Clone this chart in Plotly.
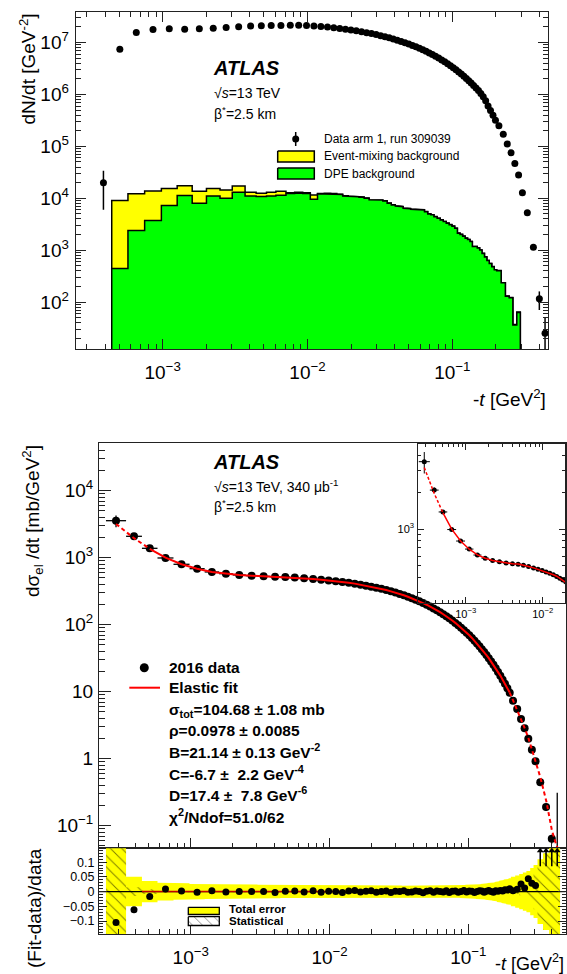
import math
import plotly.graph_objects as go

# ------------------------------------------------------------------ data
# -t bin edges [GeV^2]
t_edges = [0.000245, 0.000342, 0.000445, 0.000576, 0.000751, 0.000980, 0.001260, 0.001600,
           0.002007, 0.002490, 0.003025, 0.003709, 0.004422, 0.005213, 0.006053, 0.007106,
           0.008154, 0.009274, 0.010465, 0.011729, 0.013064, 0.014472, 0.015952, 0.017503,
           0.019127, 0.020822, 0.022680, 0.024618, 0.026634, 0.028730, 0.030906, 0.033160,
           0.035495, 0.037908, 0.040401, 0.042973, 0.045753, 0.048620, 0.051574, 0.054616,
           0.057744, 0.060960, 0.064262, 0.067652, 0.071129, 0.074693, 0.078568, 0.082541,
           0.086612, 0.090782, 0.095049, 0.099414, 0.103877, 0.108438, 0.113098, 0.117855,
           0.122640, 0.127520, 0.132496, 0.137567, 0.143111, 0.148764, 0.154528, 0.160400,
           0.166791, 0.173306, 0.179946, 0.187316, 0.194834, 0.202500, 0.2175, 0.2325,
           0.247, 0.262, 0.279, 0.295, 0.315, 0.345, 0.382, 0.417, 0.458]

# elastic differential cross section dsigma/dt [mb/GeV^2]
dsigma = [3565, 2085, 1380, 990, 797, 685, 612, 577, 552, 539, 527, 520, 515,
          505, 493, 479, 468, 456.8, 445.1, 433.2, 420.9, 408.4, 395.6, 382.8, 369.8,
          356.4, 342.6, 328.8, 315.1, 301.4, 287.9, 274.6, 261.5, 248.5, 235.9, 223.3,
          210.6, 198.4, 186.5, 175.1, 164.0, 153.5, 143.3, 133.5, 124.3, 115.2, 106.4,
          98.0, 90.1, 82.8, 75.9, 69.3, 63.3, 57.6, 52.4, 47.5, 43.1, 39.0, 35.2, 31.6,
          28.2, 25.2, 22.3, 19.7, 17.3, 15.1, 13.1, 11.26, 9.63,
          7.35, 5.52, 3.92, 2.84, 1.99, 1.36, 0.914, 0.445, 0.190, 0.064, 0.030]

# (fit - data)/data
resid = [-0.105, -0.062, -0.017, 0.009, 0.002, -0.002, 0.003, -0.001, 0.0, 0.0, 0.0, -0.003, 0.001,
         0.002, -0.001, 0.003, -0.002, 0.001, 0.0, -0.003, 0.002, 0.004, -0.001,
         0.001, 0.003, -0.002, 0.0, 0.002, -0.003, 0.001, 0.0, 0.003, -0.002,
         -0.001, 0.002, 0.0, -0.004, 0.001, 0.003, -0.002, 0.002, 0.0, -0.001,
         0.003, -0.003, 0.001, 0.002, -0.002, 0.0, 0.004, -0.001, 0.002, 0.001,
         -0.003, 0.0, 0.003, 0.002, -0.002, 0.001, 0.004, 0.0, -0.002, 0.003,
         0.001, 0.004, 0.002, 0.006, 0.005, 0.010,
         0.003, 0.008, 0.026, 0.012, 0.044, 0.028, 0.021, 0.30, 0.50, 0.80, 1.00]

# relative total and statistical uncertainties
tot_err = [0.20, 0.050, 0.036, 0.030, 0.028, 0.026, 0.025, 0.025, 0.024, 0.024, 0.023, 0.023, 0.022,
           0.022, 0.022, 0.022, 0.022, 0.022, 0.022, 0.022, 0.022,
           0.021, 0.021, 0.021, 0.021, 0.021, 0.021, 0.021, 0.021, 0.021, 0.021,
           0.020, 0.020, 0.020, 0.020, 0.020, 0.020, 0.020, 0.020, 0.020, 0.020,
           0.020, 0.020, 0.020, 0.020, 0.020,
           0.021, 0.021, 0.022, 0.022, 0.023, 0.023, 0.024, 0.024, 0.025, 0.025, 0.026, 0.027,
           0.028, 0.029, 0.030, 0.031, 0.033, 0.035, 0.037, 0.039, 0.041, 0.043, 0.045,
           0.050, 0.055, 0.060, 0.065, 0.070, 0.080, 0.090, 0.110, 0.130, 0.150, 0.200]
stat_err = [0.20, 0.015, 0.008] + [0.002] * 66 + \
           [0.005, 0.008, 0.012, 0.016, 0.020, 0.040, 0.060, 0.100, 0.130, 0.200, 0.300]

# upper panel: measured dN/dt [GeV^-2] (None = not shown)
dndt = [None, 2.0e4, 7.46e6, 1.56e7, 1.78e7, 1.86e7, 1.81e7, 1.84e7, 1.89e7, 1.95e7, 2.03e7, 2.10e7,
        2.12e7, 2.13e7, 2.14e7, 2.15e7, 2.15e7, 2.14e7, 2.10e7, 2.049e7, 1.991e7, 1.932e7, 1.871e7,
        1.811e7, 1.749e7, 1.686e7, 1.620e7, 1.555e7, 1.490e7, 1.426e7, 1.362e7, 1.299e7, 1.237e7,
        1.175e7, 1.116e7, 1.056e7, 9.96e6, 9.38e6, 8.82e6, 8.28e6, 7.76e6, 7.26e6, 6.78e6, 6.31e6,
        5.88e6, 5.45e6, 5.03e6, 4.64e6, 4.26e6, 3.92e6, 3.59e6, 3.28e6, 2.99e6, 2.72e6, 2.48e6,
        2.25e6, 2.04e6, 1.84e6, 1.66e6, 1.49e6, 1.33e6, 1.19e6, 1.05e6,
        9.0e5, 7.6e5, 6.0e5, 4.9e5, 4.0e5, 3.2e5, 2.5e5, 1.71e5, 1.11e5, 7.5e4, 4.7e4, 2.8e4,
        1.28e4, 5280, 1140, 115, 25]
dndt_err = [0] + [1.4e4] + [0] * 76 + [45, 24.9]

# upper panel backgrounds (stacked), events / GeV^2
dpe_bkg = [0, 0, 440, 2380, 3710, 7210, 11240, 8000, 11070, 10000, 13030, 11070, 10770, 11070,
           11400, 12300, 12470, 12300, 9550, 12100, 12100, 12000, 11800, 11070, 10730, 10730,
           10500, 10000, 9300, 9300, 9200, 8870, 8000, 7430, 7100, 6890, 6410, 6300, 6130, 6130,
           5960, 5960, 5520, 4990, 4800, 4420, 4110, 3820, 3550, 3300, 3100, 2900, 2630, 2120,
           2000, 1850, 1700, 1600, 1460, 1170, 1170, 1100, 1000, 860, 740, 630, 550, 480, 417,
           400, 234, 129, 121, 36, 63, 0, 0, 0, 0, 0]
evmix_bkg = [0, 0, 8560, 9890, 10120, 8130, 6260, 5620, 4270, 4460, 4230, 1960, 1700, 1960,
             2220, 520, 530, 520, 2030, 200, 370, 300, 200,
             120, 110, 100, 100, 90, 90, 80, 80, 80, 70, 60, 60, 50, 50, 50, 40, 40, 40, 40, 35,
             30, 30, 30, 25, 25, 20, 20, 20, 15, 15, 15, 12, 12, 10, 10, 10, 8, 8, 7, 6,
             6, 5, 4, 4, 3, 3, 3, 2, 1, 1, 1, 1, 0, 0, 0, 0, 0]

# extrapolated fit beyond the fit range (dashed)
fit_tail_t = [0.1986, 0.21, 0.225, 0.24, 0.2545, 0.27, 0.287, 0.305, 0.33, 0.365, 0.40, 0.432, 0.46]
fit_tail_v = [9.72, 7.37, 5.56, 4.02, 2.87, 2.08, 1.40, 0.93, 0.53, 0.23, 0.085, 0.05, 0.04]

FIT_LO, FIT_HI = 2, 69   # fit-range bins [2, 68]

# ticks
x_major = [1e-3, 1e-2, 1e-1]
x_major_text = ["10<sup>\u22123</sup>", "10<sup>\u22122</sup>", "10<sup>\u22121</sup>"]
x_minor = [m * 10.0 ** d for d in (-4, -3, -2, -1) for m in range(2, 10)]
top_y_major = [1e2, 1e3, 1e4, 1e5, 1e6, 1e7]
top_y_text = ["10<sup>2</sup>", "10<sup>3</sup>", "10<sup>4</sup>", "10<sup>5</sup>", "10<sup>6</sup>", "10<sup>7</sup>"]
top_y_minor = [m * 10.0 ** d for d in range(1, 8) for m in range(2, 10)]
main_y_major = [0.1, 1, 10, 100, 1e3, 1e4]
main_y_text = ["10<sup>\u22121</sup>", "1", "10", "10<sup>2</sup>", "10<sup>3</sup>", "10<sup>4</sup>"]
main_y_minor = [m * 10.0 ** d for d in range(-2, 5) for m in range(2, 10)]
ratio_y_major = [-0.1, -0.05, 0, 0.05, 0.1]
ratio_y_text = ["\u22120.1", "\u22120.05", "0", "0.05", "0.1"]

# ------------------------------------------------------------------ helpers
W, H = 567, 974
def px(x):
    return x / W
def py(y):
    return 1 - y / H

nb = len(t_edges) - 1
t_c = [math.sqrt(t_edges[i] * t_edges[i + 1]) for i in range(nb)]
fit_v = [dsigma[i] * (1 + resid[i]) for i in range(nb)]

FONT = "Liberation Sans, Arial, Helvetica, sans-serif"

fig = go.Figure()

# ---------------- top panel: stacked background histograms
def step_poly(vals, lo, hi, bottom):
    xs, ys = [t_edges[lo]], [bottom]
    for i in range(lo, hi):
        xs += [t_edges[i], t_edges[i + 1]]
        ys += [vals[i], vals[i]]
    xs.append(t_edges[hi]); ys.append(bottom)
    return xs, ys

tot_bkg = [a + b for a, b in zip(dpe_bkg, evmix_bkg)]
xs, ys = step_poly(tot_bkg, 2, 75, 1.0)
fig.add_trace(go.Scatter(x=xs, y=ys, mode="lines", fill="toself", fillcolor="#ffff00",
                         line=dict(color="black", width=1.5), xaxis="x", yaxis="y",
                         showlegend=False, hoverinfo="skip"))
xs, ys = step_poly(dpe_bkg, 2, 75, 1.0)
fig.add_trace(go.Scatter(x=xs, y=ys, mode="lines", fill="toself", fillcolor="#00ff00",
                         line=dict(color="black", width=1.5), xaxis="x", yaxis="y",
                         showlegend=False, hoverinfo="skip"))
sel = [i for i in range(nb) if dndt[i] is not None]
fig.add_trace(go.Scatter(x=[t_c[i] for i in sel], y=[dndt[i] for i in sel], mode="markers",
                         marker=dict(color="black", size=7),
                         error_y=dict(type="data", array=[dndt_err[i] for i in sel],
                                      color="black", thickness=1.5, width=0),
                         xaxis="x", yaxis="y", showlegend=False))

# ---------------- main lower panel
ex_p = [t_edges[i + 1] - t_c[i] for i in range(nb)]
ex_m = [t_c[i] - t_edges[i] for i in range(nb)]
ey_p = [dsigma[i] * tot_err[i] for i in range(nb)]
ey_m = [min(dsigma[i] * tot_err[i], dsigma[i] * 0.97) for i in range(nb)]
ey_p[-1] = 0.28  # large upper error of last bin
fig.add_trace(go.Scatter(x=t_c, y=dsigma, mode="markers", marker=dict(color="black", size=8),
                         error_x=dict(type="data", array=ex_p, arrayminus=ex_m, color="black",
                                      thickness=1.3, width=0),
                         error_y=dict(type="data", array=ey_p, arrayminus=ey_m, color="black",
                                      thickness=1.3, width=0),
                         xaxis="x2", yaxis="y2", showlegend=False))
fig.add_trace(go.Scatter(x=t_c[0:FIT_LO + 1], y=fit_v[0:FIT_LO + 1], mode="lines",
                         line=dict(color="#ff0000", width=2, dash="4px,3px"),
                         xaxis="x2", yaxis="y2", showlegend=False))
fig.add_trace(go.Scatter(x=fit_tail_t, y=fit_tail_v, mode="lines",
                         line=dict(color="#ff0000", width=2, dash="4px,3px"),
                         xaxis="x2", yaxis="y2", showlegend=False))
fig.add_trace(go.Scatter(x=t_c[FIT_LO:FIT_HI], y=fit_v[FIT_LO:FIT_HI], mode="lines",
                         line=dict(color="#ff0000", width=2),
                         xaxis="x2", yaxis="y2", showlegend=False))

# ---------------- ratio panel
def band_poly(errs):
    xs, ys = [], []
    for i in range(nb):
        xs += [t_edges[i], t_edges[i + 1]]
        ys += [errs[i], errs[i]]
    for i in reversed(range(nb)):
        xs += [t_edges[i + 1], t_edges[i]]
        ys += [-errs[i], -errs[i]]
    xs.append(xs[0]); ys.append(ys[0])
    return xs, ys

xs, ys = band_poly(tot_err)
fig.add_trace(go.Scatter(x=xs, y=ys, mode="lines", fill="toself", fillcolor="#ffff00",
                         line=dict(width=0, color="#ffff00"), xaxis="x3", yaxis="y3",
                         showlegend=False, hoverinfo="skip"))
xs, ys = band_poly(stat_err)
fig.add_trace(go.Scatter(x=xs, y=ys, mode="lines", fill="toself", fillcolor="rgba(0,0,0,0)",
                         fillpattern=dict(shape="\\", fgcolor="black", bgcolor="rgba(0,0,0,0)",
                                          size=8, solidity=0.12),
                         line=dict(width=0, color="rgba(0,0,0,0)"), xaxis="x3", yaxis="y3",
                         showlegend=False, hoverinfo="skip"))
fig.add_trace(go.Scatter(x=[2.0e-4, 0.6], y=[0, 0], mode="lines",
                         line=dict(color="black", width=1.3), xaxis="x3", yaxis="y3",
                         showlegend=False, hoverinfo="skip"))
fig.add_trace(go.Scatter(x=[t_edges[FIT_LO], t_edges[FIT_HI]], y=[0, 0], mode="lines",
                         line=dict(color="#c00000", width=1.5), xaxis="x3", yaxis="y3",
                         showlegend=False, hoverinfo="skip"))
R_MAX = 0.147
on = [i for i in range(nb) if abs(resid[i]) < R_MAX]
off = [i for i in range(nb) if resid[i] >= R_MAX]
fig.add_trace(go.Scatter(x=[t_c[i] for i in on], y=[resid[i] for i in on], mode="markers",
                         marker=dict(color="black", size=7), xaxis="x3", yaxis="y3",
                         showlegend=False))
ax_x, ax_y = [], []
for i in off:
    ax_x += [t_c[i], t_c[i], None]
    ax_y += [0.086, 0.138, None]
fig.add_trace(go.Scatter(x=ax_x, y=ax_y, mode="lines", line=dict(color="black", width=1.5),
                         xaxis="x3", yaxis="y3", showlegend=False, hoverinfo="skip"))
fig.add_trace(go.Scatter(x=[t_c[i] for i in off], y=[0.139] * len(off), mode="markers",
                         marker=dict(symbol="triangle-up", color="black", size=6),
                         cliponaxis=False, xaxis="x3", yaxis="y3", showlegend=False))

# ---------------- inset
fig.add_trace(go.Scatter(x=t_c, y=dsigma, mode="markers", marker=dict(color="black", size=5),
                         error_x=dict(type="data", array=ex_p, arrayminus=ex_m, color="black",
                                      thickness=1, width=0),
                         error_y=dict(type="data", array=ey_p, arrayminus=ey_m, color="black",
                                      thickness=1, width=0),
                         xaxis="x4", yaxis="y4", showlegend=False))
fig.add_trace(go.Scatter(x=t_c[0:FIT_LO + 1], y=fit_v[0:FIT_LO + 1], mode="lines",
                         line=dict(color="#ff0000", width=1.5, dash="3px,2px"),
                         xaxis="x4", yaxis="y4", showlegend=False))
fig.add_trace(go.Scatter(x=t_c[FIT_LO:FIT_HI], y=fit_v[FIT_LO:FIT_HI], mode="lines",
                         line=dict(color="#ff0000", width=1.5),
                         xaxis="x4", yaxis="y4", showlegend=False))

# ---------------- legend swatches (pixel overlay axes)
def rect(x0, y0, x1, y1):
    return [x0, x1, x1, x0, x0], [y0, y0, y1, y1, y0]

fig.add_trace(go.Scatter(x=[295.7], y=[139], mode="markers", marker=dict(color="black", size=7),
                         error_y=dict(type="constant", value=7, color="black", thickness=1.5, width=0),
                         xaxis="x5", yaxis="y5", showlegend=False, hoverinfo="skip"))
for (y0, y1, col) in [(151, 162, "#ffff00"), (168, 179, "#00ff00")]:
    rx, ry = rect(277.7, y0, 314.3, y1)
    fig.add_trace(go.Scatter(x=rx, y=ry, mode="lines", fill="toself", fillcolor=col,
                             line=dict(color="black", width=1.5), xaxis="x5", yaxis="y5",
                             showlegend=False, hoverinfo="skip"))
fig.add_trace(go.Scatter(x=[144.3], y=[667.7], mode="markers", marker=dict(color="black", size=9),
                         xaxis="x5", yaxis="y5", showlegend=False, hoverinfo="skip"))
fig.add_trace(go.Scatter(x=[129.3, 160], y=[687.7, 687.7], mode="lines",
                         line=dict(color="#ff0000", width=2), xaxis="x5", yaxis="y5",
                         showlegend=False, hoverinfo="skip"))
rx, ry = rect(188.3, 907.3, 219.3, 914.5)
fig.add_trace(go.Scatter(x=rx, y=ry, mode="lines", fill="toself", fillcolor="#ffff00",
                         line=dict(color="black", width=1.3), xaxis="x5", yaxis="y5",
                         showlegend=False, hoverinfo="skip"))
rx, ry = rect(188.3, 916.7, 219.3, 925.5)
fig.add_trace(go.Scatter(x=rx, y=ry, mode="lines", fill="toself", fillcolor="rgba(0,0,0,0)",
                         fillpattern=dict(shape="\\", fgcolor="black", bgcolor="white",
                                          size=7, solidity=0.12),
                         line=dict(color="black", width=1.3), xaxis="x5", yaxis="y5",
                         showlegend=False, hoverinfo="skip"))

# ------------------------------------------------------------------ axes
def axis_common(**kw):
    d = dict(showline=True, linecolor="#222", linewidth=1, ticks="inside", tickcolor="#222",
             tickwidth=1, showgrid=False, zeroline=False, fixedrange=True,
             tickfont=dict(family=FONT, size=19, color="black"))
    d.update(kw)
    return d

LOG = math.log10
layout_axes = dict(
    xaxis=axis_common(type="log", domain=[px(75.7), px(548)], anchor="y",
                      range=[LOG(2.51e-4), LOG(0.458)], mirror="ticks", ticklen=10,
                      tickmode="array", tickvals=x_major, ticktext=x_major_text,
                      ticklabelstandoff=6,
                      minor=dict(ticks="inside", ticklen=5, tickcolor="#222",
                                 tickmode="array", tickvals=x_minor)),
    yaxis=axis_common(type="log", domain=[py(349), py(12)], anchor="x",
                      range=[1.094, 7.59], mirror="ticks", ticklen=10,
                      tickmode="array", tickvals=top_y_major, ticktext=top_y_text,
                      ticklabelstandoff=2,
                      minor=dict(ticks="inside", ticklen=5, tickcolor="#222",
                                 tickmode="array", tickvals=top_y_minor)),
    xaxis2=axis_common(type="log", domain=[px(99), px(565.5)], anchor="y2",
                       range=[-3.661, -0.300], mirror=True, ticklen=10,
                       tickmode="array", tickvals=x_major, showticklabels=False,
                       minor=dict(ticks="inside", ticklen=5, tickcolor="#222",
                                  tickmode="array", tickvals=x_minor)),
    yaxis2=axis_common(type="log", domain=[py(848.3), py(443.3)], anchor="x2",
                       range=[-1.337, 4.707], mirror=True, ticklen=12,
                       tickmode="array", tickvals=main_y_major, ticktext=main_y_text,
                       ticklabelstandoff=1,
                       minor=dict(ticks="inside", ticklen=6, tickcolor="#222",
                                  tickmode="array", tickvals=main_y_minor)),
    xaxis3=axis_common(type="log", domain=[px(99), px(565.5)], anchor="y3",
                       range=[-3.661, -0.300], mirror=True, ticklen=10,
                       tickmode="array", tickvals=x_major, ticktext=x_major_text,
                       ticklabelstandoff=6,
                       minor=dict(ticks="inside", ticklen=5, tickcolor="#222",
                                  tickmode="array", tickvals=x_minor)),
    yaxis3=axis_common(domain=[py(934.3), py(848.3)], anchor="x3",
                       range=[-0.145, 0.147], mirror="ticks", ticklen=8,
                       tickmode="array", tickvals=ratio_y_major, ticktext=ratio_y_text,
                       ticklabelstandoff=1, tickfont=dict(family=FONT, size=12.5, color="black"),
                       minor=dict(ticks="inside", ticklen=4, tickcolor="#222", dtick=0.01)),
    xaxis4=axis_common(type="log", domain=[px(418.3), px(565)], anchor="y4",
                       range=[-3.616, -1.71], mirror="ticks", ticklen=6,
                       tickmode="array", tickvals=x_major, ticktext=x_major_text,
                       ticklabelstandoff=1, tickfont=dict(family=FONT, size=11, color="black"),
                       minor=dict(ticks="inside", ticklen=3, tickcolor="#222",
                                  tickmode="array", tickvals=x_minor)),
    yaxis4=axis_common(type="log", domain=[py(602.7), py(444)], anchor="x4",
                       range=[2.396, 3.697], mirror="ticks", ticklen=6,
                       tickmode="array", tickvals=[1000], ticktext=["10<sup>3</sup>"],
                       ticklabelstandoff=1, tickfont=dict(family=FONT, size=11, color="black"),
                       minor=dict(ticks="inside", ticklen=3, tickcolor="#222",
                                  tickmode="array", tickvals=main_y_minor)),
    xaxis5=dict(domain=[0, 1], range=[0, W], visible=False, anchor="y5", fixedrange=True),
    yaxis5=dict(domain=[0, 1], range=[H, 0], visible=False, anchor="x5", fixedrange=True),
)

# ------------------------------------------------------------------ text
ann = []
def txt(x, y, s, size, xanchor="left", yanchor="middle", angle=0):
    ann.append(dict(x=px(x), y=py(y), xref="paper", yref="paper", text=s, showarrow=False,
                    xanchor=xanchor, yanchor=yanchor, textangle=angle,
                    font=dict(family=FONT, size=size, color="black")))

# axis titles
txt(28, 12, "dN/dt [GeV<sup>-2</sup>]", 19, xanchor="center", yanchor="top", angle=-90)
txt(548, 398, "-<i>t</i> [GeV<sup>2</sup>]", 19, xanchor="right")
txt(32, 443, "d\u03c3<sub>el</sub> /dt [mb/GeV<sup>2</sup>]", 19, xanchor="center", yanchor="top", angle=-90)
txt(34, 846, "(Fit-data)/data", 19, xanchor="center", yanchor="top", angle=-90)
txt(566, 962, "-<i>t</i> [GeV<sup>2</sup>]", 18, xanchor="right")

# top panel labels
txt(211, 68.3, "<b><i>ATLAS</i></b>", 20)
txt(212, 92.7, "\u221a<i>s</i>=13 TeV", 14)
txt(212, 113, "\u03b2<sup>*</sup>=2.5 km", 14)
txt(321.7, 139, "Data arm 1, run 309039", 12)
txt(321.7, 156.5, "Event-mixing background", 12)
txt(321.7, 173.5, "DPE background", 12)

# lower panel labels
txt(211, 461.7, "<b><i>ATLAS</i></b>", 20)
txt(212, 485.7, "\u221a<i>s</i>=13 TeV, 340 \u03bcb<sup>-1</sup>", 14)
txt(212, 506, "\u03b2<sup>*</sup>=2.5 km", 14)
txt(166.7, 667.7, "<b>2016 data</b>", 15.5)
txt(166.7, 687.7, "<b>Elastic fit</b>", 15.5)
txt(166.7, 710, "<b>\u03c3<sub>tot</sub>=104.68 \u00b1 1.08 mb</b>", 15.5)
txt(166.7, 730.7, "<b>\u03c1=0.0978 \u00b1 0.0085</b>", 15.5)
txt(166.7, 751, "<b>B=21.14 \u00b1 0.13 GeV<sup>-2</sup></b>", 15.5)
txt(166.7, 772.5, "<b>C=-6.7 \u00b1  2.2 GeV<sup>-4</sup></b>", 15.5)
txt(166.7, 793.5, "<b>D=17.4 \u00b1  7.8 GeV<sup>-6</sup></b>", 15.5)
txt(166.7, 815.5, "<b>\u03c7<sup>2</sup>/Ndof=51.0/62</b>", 15.5)
txt(226.7, 909.4, "<b>Total error</b>", 11.5)
txt(226.7, 921.0, "<b>Statistical</b>", 11.5)

fig.update_layout(
    width=W, height=H, margin=dict(l=0, r=0, t=0, b=0),
    paper_bgcolor="white", plot_bgcolor="rgba(0,0,0,0)",
    font=dict(family=FONT, color="black"),
    showlegend=False, annotations=ann, **layout_axes,
)

fig.write_html("out.html", include_plotlyjs=True, full_html=True,
               config={"displayModeBar": False, "staticPlot": True},
               post_script="document.body.style.margin='0px';")
